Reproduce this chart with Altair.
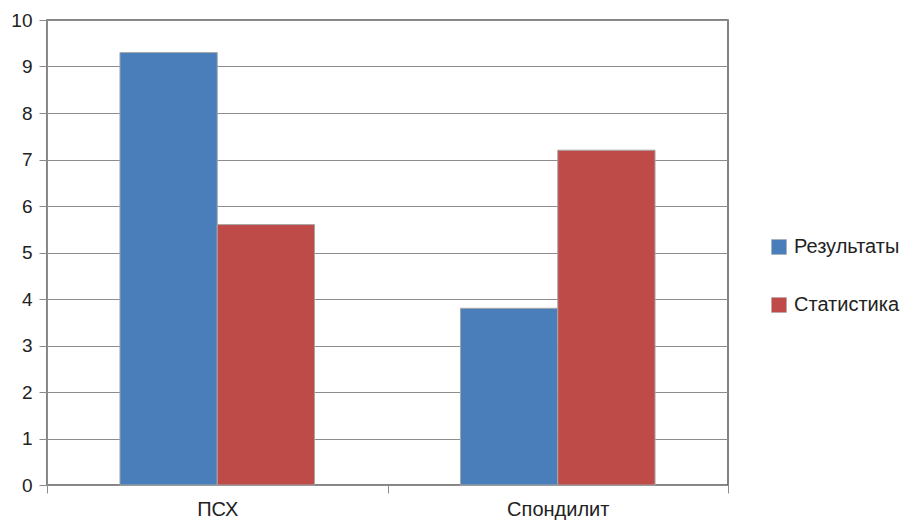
import altair as alt
import pandas as pd

categories = ["ПСХ", "Спондилит"]
series = ["Результаты", "Статистика"]
results = [9.3, 3.8]
statistics = [5.6, 7.2]
colors = ["#4A7EBB", "#BE4B48"]

rows = []
for i, c in enumerate(categories):
    rows.append({"cat": c, "series": series[0], "value": results[i]})
    rows.append({"cat": c, "series": series[1], "value": statistics[i]})
df = pd.DataFrame(rows)

FONT = "Liberation Sans"

chart = alt.Chart(df).mark_bar(stroke="#A6A6A6", strokeWidth=1).encode(
    x=alt.X("cat:N", sort=categories, title=None,
            scale=alt.Scale(paddingInner=0, paddingOuter=0),
            axis=alt.Axis(labelAngle=0, tickBand="extent", tickSize=8,
                          tickColor="#8C8C8C", domainColor="#8C8C8C",
                          labelFont=FONT, labelFontSize=20, labelColor="#222222",
                          labelPadding=6, grid=False)),
    xOffset=alt.XOffset("series:N", sort=series,
                        scale=alt.Scale(paddingInner=0, paddingOuter=0.75)),
    y=alt.Y("value:Q", title=None,
            scale=alt.Scale(domain=[0, 10], nice=False),
            axis=alt.Axis(values=list(range(0, 11)), tickSize=8,
                          tickColor="#8C8C8C", domainColor="#8C8C8C",
                          gridColor="#8C8C8C", gridWidth=1.2,
                          labelFont=FONT, labelFontSize=19, labelColor="#222222",
                          labelPadding=7)),
    color=alt.Color("series:N", sort=series,
                    scale=alt.Scale(domain=series, range=colors),
                    legend=alt.Legend(title=None, orient="none",
                                      legendX=722, legendY=217,
                                      symbolType="square", symbolSize=225,
                                      symbolStrokeColor="#A6A6A6", symbolStrokeWidth=0.5,
                                      labelFont=FONT, labelFontSize=20,
                                      labelColor="#222222", rowPadding=38,
                                      labelOffset=5)),
).properties(
    width=681, height=465,
    autosize=alt.AutoSizeParams(type="none"),
    padding={"left": 39, "top": 12, "right": 173, "bottom": 37},
).configure_view(
    stroke="#5A5A5A", strokeWidth=1.5
)

chart.save("out.html", embed_options={"renderer": "svg", "actions": False})
